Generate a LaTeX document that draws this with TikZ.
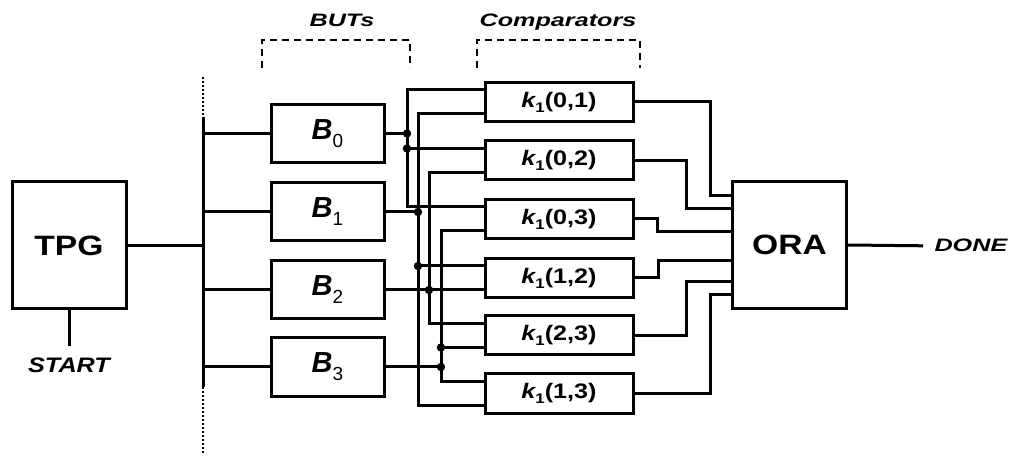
\documentclass[tikz,border=0pt]{standalone}
\usepackage{fontspec}
\setmainfont{Liberation Sans}
\newfontfamily\wideA[FakeStretch=1.2]{Liberation Sans}
\newfontfamily\wideB[FakeStretch=1.4]{Liberation Sans}
\usetikzlibrary{calc}
\begin{document}
\begin{tikzpicture}[x=0.5pt,y=-0.5pt,line width=1.5pt,
  box/.style={draw,inner sep=0pt,line width=1.5pt},
  bigbox/.style={box,minimum width=57pt,minimum height=63.5pt,font=\wideA\fontsize{14}{16}\selectfont\bfseries},
  butbox/.style={box,minimum width=56.5pt,minimum height=29pt,font=\fontsize{14.5}{16}\selectfont},
  cmpbox/.style={box,minimum width=74pt,minimum height=19.5pt,font=\wideA\fontsize{10.5}{12}\selectfont\bfseries},
  jdot/.style={circle,fill,inner sep=0pt,minimum size=4.2pt},
  sig/.style={inner sep=0pt,font=\wideA\fontsize{10.5}{12}\selectfont\bfseries\itshape},
  head/.style={inner sep=0pt,font=\wideB\fontsize{9}{11}\selectfont\bfseries\itshape},
  bracket/.style={line width=0.7pt,dash pattern=on 3.5pt off 2.5pt},
  fine/.style={line width=1.3pt,dash pattern=on 1pt off 1pt},
]
\useasboundingbox (0,0) rectangle (1011,459);

% generator and analyser
\node[bigbox] (tpg) at (69,245.5) {TPG};
\node[bigbox] (ora) at (789.5,245) {ORA};

% blocks under test
\newcommand{\blk}[1]{{\bfseries\itshape B}\raisebox{-4pt}{\fontsize{9.5}{10}\selectfont #1}}
\node[butbox] (b0) at (327.5,133.5) {\blk{0}};
\node[butbox] (b1) at (327.5,212)   {\blk{1}};
\node[butbox] (b2) at (327.5,290)   {\blk{2}};
\node[butbox] (b3) at (327.5,367)   {\blk{3}};

% comparators
\newcommand{\cmp}[1]{{\itshape k}\raisebox{-2.5pt}{\fontsize{7}{8}\selectfont 1}(#1)}
\node[cmpbox] (k01) at (559,102)   {\cmp{0,1}};
\node[cmpbox] (k02) at (559,160.5) {\cmp{0,2}};
\node[cmpbox] (k03) at (559,219)   {\cmp{0,3}};
\node[cmpbox] (k12) at (559,278)   {\cmp{1,2}};
\node[cmpbox] (k23) at (559,335.5) {\cmp{2,3}};
\node[cmpbox] (k13) at (559,393.5) {\cmp{1,3}};

% comparator inputs
\foreach \n in {k01,k02,k03,k12,k23,k13}{
  \coordinate (\n a) at ($(\n.west)+(0,-12)$);
  \coordinate (\n b) at ($(\n.west)+(0,12)$);
}

% labels
\node[head,anchor=base] (lbuts) at (342,27) {BUTs};
\node[head,anchor=base] (lcmp) at (558,27) {Comparators};
\node[sig,anchor=base] (start) at (69,372) {START};
\node[head,anchor=base west] (done) at (933,252) {DONE};

% section brackets
\draw[bracket] (262,68) -- (262,40) -- (410,40) -- (410,68);
\draw[bracket] (477,68) -- (477,40) -- (640,40) -- (640,68);

% test bus
\coordinate (xbus) at (203,0);
\coordinate (bustop) at (203,117);
\coordinate (busbot) at (203,387);
\draw (bustop) -- (busbot);
\draw[fine] (203,77) -- (bustop);
\draw[fine] (busbot) -- (203,455);
\draw (tpg.east) -- (tpg.east -| xbus);
\foreach \b in {b0,b1,b2,b3}{\draw (\b.west -| xbus) -- (\b.west);}
\draw (tpg.south) -- ($(start.north)+(0,-10)$);

% signal lines to comparators
\coordinate (xa) at (407,0);
\coordinate (xb) at (418,0);
\coordinate (xc) at (429,0);
\coordinate (xd) at (441,0);

\draw (b0.east) -- (b0.east -| xa);
\draw (k01a) -- (k01a -| xa) -- (k03a -| xa) -- (k03a);
\draw (k02a -| xa) -- (k02a);
\node[jdot] (d0a) at (b0.east -| xa) {};
\node[jdot] (d0b) at (k02a -| xa) {};

\draw (b1.east) -- (b1.east -| xb);
\draw (k01b) -- (k01b -| xb) -- (k13b -| xb) -- (k13b);
\draw (k12a -| xb) -- (k12a);
\node[jdot] (d1a) at (b1.east -| xb) {};
\node[jdot] (d1b) at (k12a -| xb) {};

\draw (b2.east) -- (k12b);
\draw (k02b) -- (k02b -| xc) -- (k23a -| xc) -- (k23a);
\node[jdot] (d2a) at (b2.east -| xc) {};

\draw (b3.east) -- (b3.east -| xd);
\draw (k03b) -- (k03b -| xd) -- (k13a -| xd) -- (k13a);
\draw (k23b -| xd) -- (k23b);
\node[jdot] (d3a) at (b3.east -| xd) {};
\node[jdot] (d3b) at (k23b -| xd) {};

% comparator outputs to ORA
\draw (k01.east) -| ($(ora.west)+(-21,-49)$) -- ($(ora.west)+(0,-49)$);
\draw (k02.east) -| ($(ora.west)+(-45,-36)$) -- ($(ora.west)+(0,-36)$);
\draw (k03.east) -| ($(ora.west)+(-74,-13)$) -- ($(ora.west)+(0,-13)$);
\draw (k12.east) -| ($(ora.west)+(-73,16)$) -- ($(ora.west)+(0,16)$);
\draw (k23.east) -| ($(ora.west)+(-45,37)$) -- ($(ora.west)+(0,37)$);
\draw (k13.east) -| ($(ora.west)+(-21,50)$) -- ($(ora.west)+(0,50)$);

\draw (ora.east) -- ($(done.west)+(-10,0)$);
\end{tikzpicture}
\end{document}
